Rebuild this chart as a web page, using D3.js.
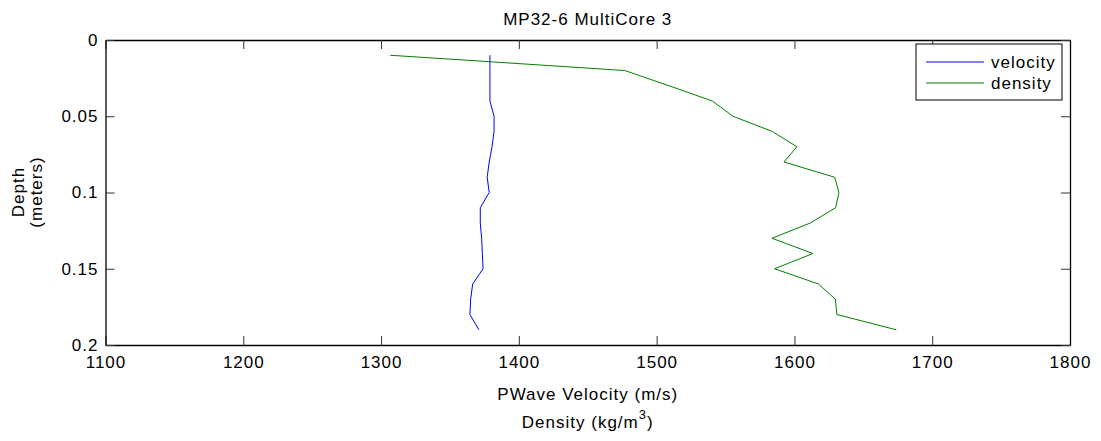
<!DOCTYPE html>
<html><head><meta charset="utf-8">
<script src="https://cdn.jsdelivr.net/npm/d3@7"></script>
<style>
body{margin:0;background:#fff;}
svg text{font-family:"Liberation Sans",Arial,sans-serif;fill:#000;letter-spacing:1px;}
</style></head>
<body><svg id="c" width="1101" height="441"></svg>
<script>
(function(){
const depths = [0.01,0.02,0.03,0.04,0.05,0.06,0.07,0.08,0.09,0.10,0.11,0.12,0.13,0.14,0.15,0.16,0.17,0.18,0.19];
const velocity = [1379,1379,1379,1379,1382,1382,1380.5,1378.5,1377,1378.5,1372,1372,1373,1373.5,1374,1366.5,1365,1364.5,1371];
const density = [1306.6,1476.8,1509,1540.4,1555.4,1584,1601.8,1592.4,1629.2,1632.3,1629.9,1611.5,1583.7,1613.4,1585.6,1617.5,1629.7,1630.8,1673.9];
const xTicks = [1100,1200,1300,1400,1500,1600,1700,1800];
const yTicks = [0,0.05,0.1,0.15,0.2];
const seriesNames = ["velocity","density"];
const seriesColors = ["#0000ff","#008000"];

const svg = d3.select("#c");
const L=105.5,R=1070,T=40,B=345;
const x = d3.scaleLinear().domain([1100,1800]).range([L,R]);
const y = d3.scaleLinear().domain([0,0.2]).range([T,B]);
const fs = 17;

svg.append("rect").attr("x",L).attr("y",T).attr("width",R-L).attr("height",B-T).attr("fill","#fff");

const line = d3.line().x(d=>x(d[0])).y(d=>y(d[1]));
[velocity,density].forEach((vals,i)=>{
  svg.append("path").datum(vals.map((v,j)=>[v,depths[j]]))
    .attr("d",line).attr("fill","none").attr("stroke",seriesColors[i]).attr("stroke-width",1);
});

const tl = 9;
const gBottom = svg.append("g").attr("transform",`translate(0,${B})`)
  .call(d3.axisBottom(x).tickValues(xTicks).tickFormat(d3.format("d")).tickSizeInner(-tl).tickSizeOuter(0).tickPadding(11));
const gTop = svg.append("g").attr("transform",`translate(0,${T})`)
  .call(d3.axisTop(x).tickValues(xTicks).tickFormat("").tickSizeInner(-tl).tickSizeOuter(0));
const gLeft = svg.append("g").attr("transform",`translate(${L},0)`)
  .call(d3.axisLeft(y).tickValues(yTicks).tickFormat(d=>String(+d.toFixed(2))).tickSizeInner(-tl).tickSizeOuter(0).tickPadding(7));
const gRight = svg.append("g").attr("transform",`translate(${R},0)`)
  .call(d3.axisRight(y).tickValues(yTicks).tickFormat("").tickSizeInner(-tl).tickSizeOuter(0));
[gBottom,gTop,gLeft,gRight].forEach(g=>{
  g.select(".domain").attr("stroke","#000").attr("stroke-width",1.3);
  g.selectAll(".tick line").attr("stroke","#333");
  g.selectAll("text").attr("font-size",fs).attr("font-family","Liberation Sans, Arial, sans-serif").attr("fill","#000");
});

svg.append("text").attr("x",(L+R)/2).attr("y",25).attr("text-anchor","middle").attr("font-size",fs).text("MP32-6 MultiCore 3");
svg.append("text").attr("x",(L+R)/2).attr("y",400).attr("text-anchor","middle").attr("font-size",fs).text("PWave Velocity (m/s)");
const dl = svg.append("text").attr("x",(L+R)/2).attr("y",428).attr("text-anchor","middle").attr("font-size",fs);
dl.append("tspan").text("Density (kg/m");
dl.append("tspan").attr("dy",-9).attr("font-size",13).text("3");
dl.append("tspan").attr("dy",9).text(")");
const yl = svg.append("text").attr("transform","translate(24,192) rotate(-90)").attr("text-anchor","middle").attr("font-size",fs);
yl.append("tspan").attr("x",0).attr("dy",0).text("Depth");
yl.append("tspan").attr("x",0).attr("dy",18).text("(meters)");

const lg = svg.append("g");
lg.append("rect").attr("x",916).attr("y",44).attr("width",146).attr("height",56).attr("fill","#fff").attr("stroke","#000").attr("stroke-width",1);
seriesNames.forEach((n,i)=>{
  const cy = 62 + i*21;
  lg.append("line").attr("x1",926).attr("x2",984).attr("y1",cy).attr("y2",cy).attr("stroke",seriesColors[i]).attr("stroke-width",1);
  lg.append("text").attr("x",991).attr("y",cy+6).attr("font-size",fs).text(n);
});
})();
</script></body></html>
